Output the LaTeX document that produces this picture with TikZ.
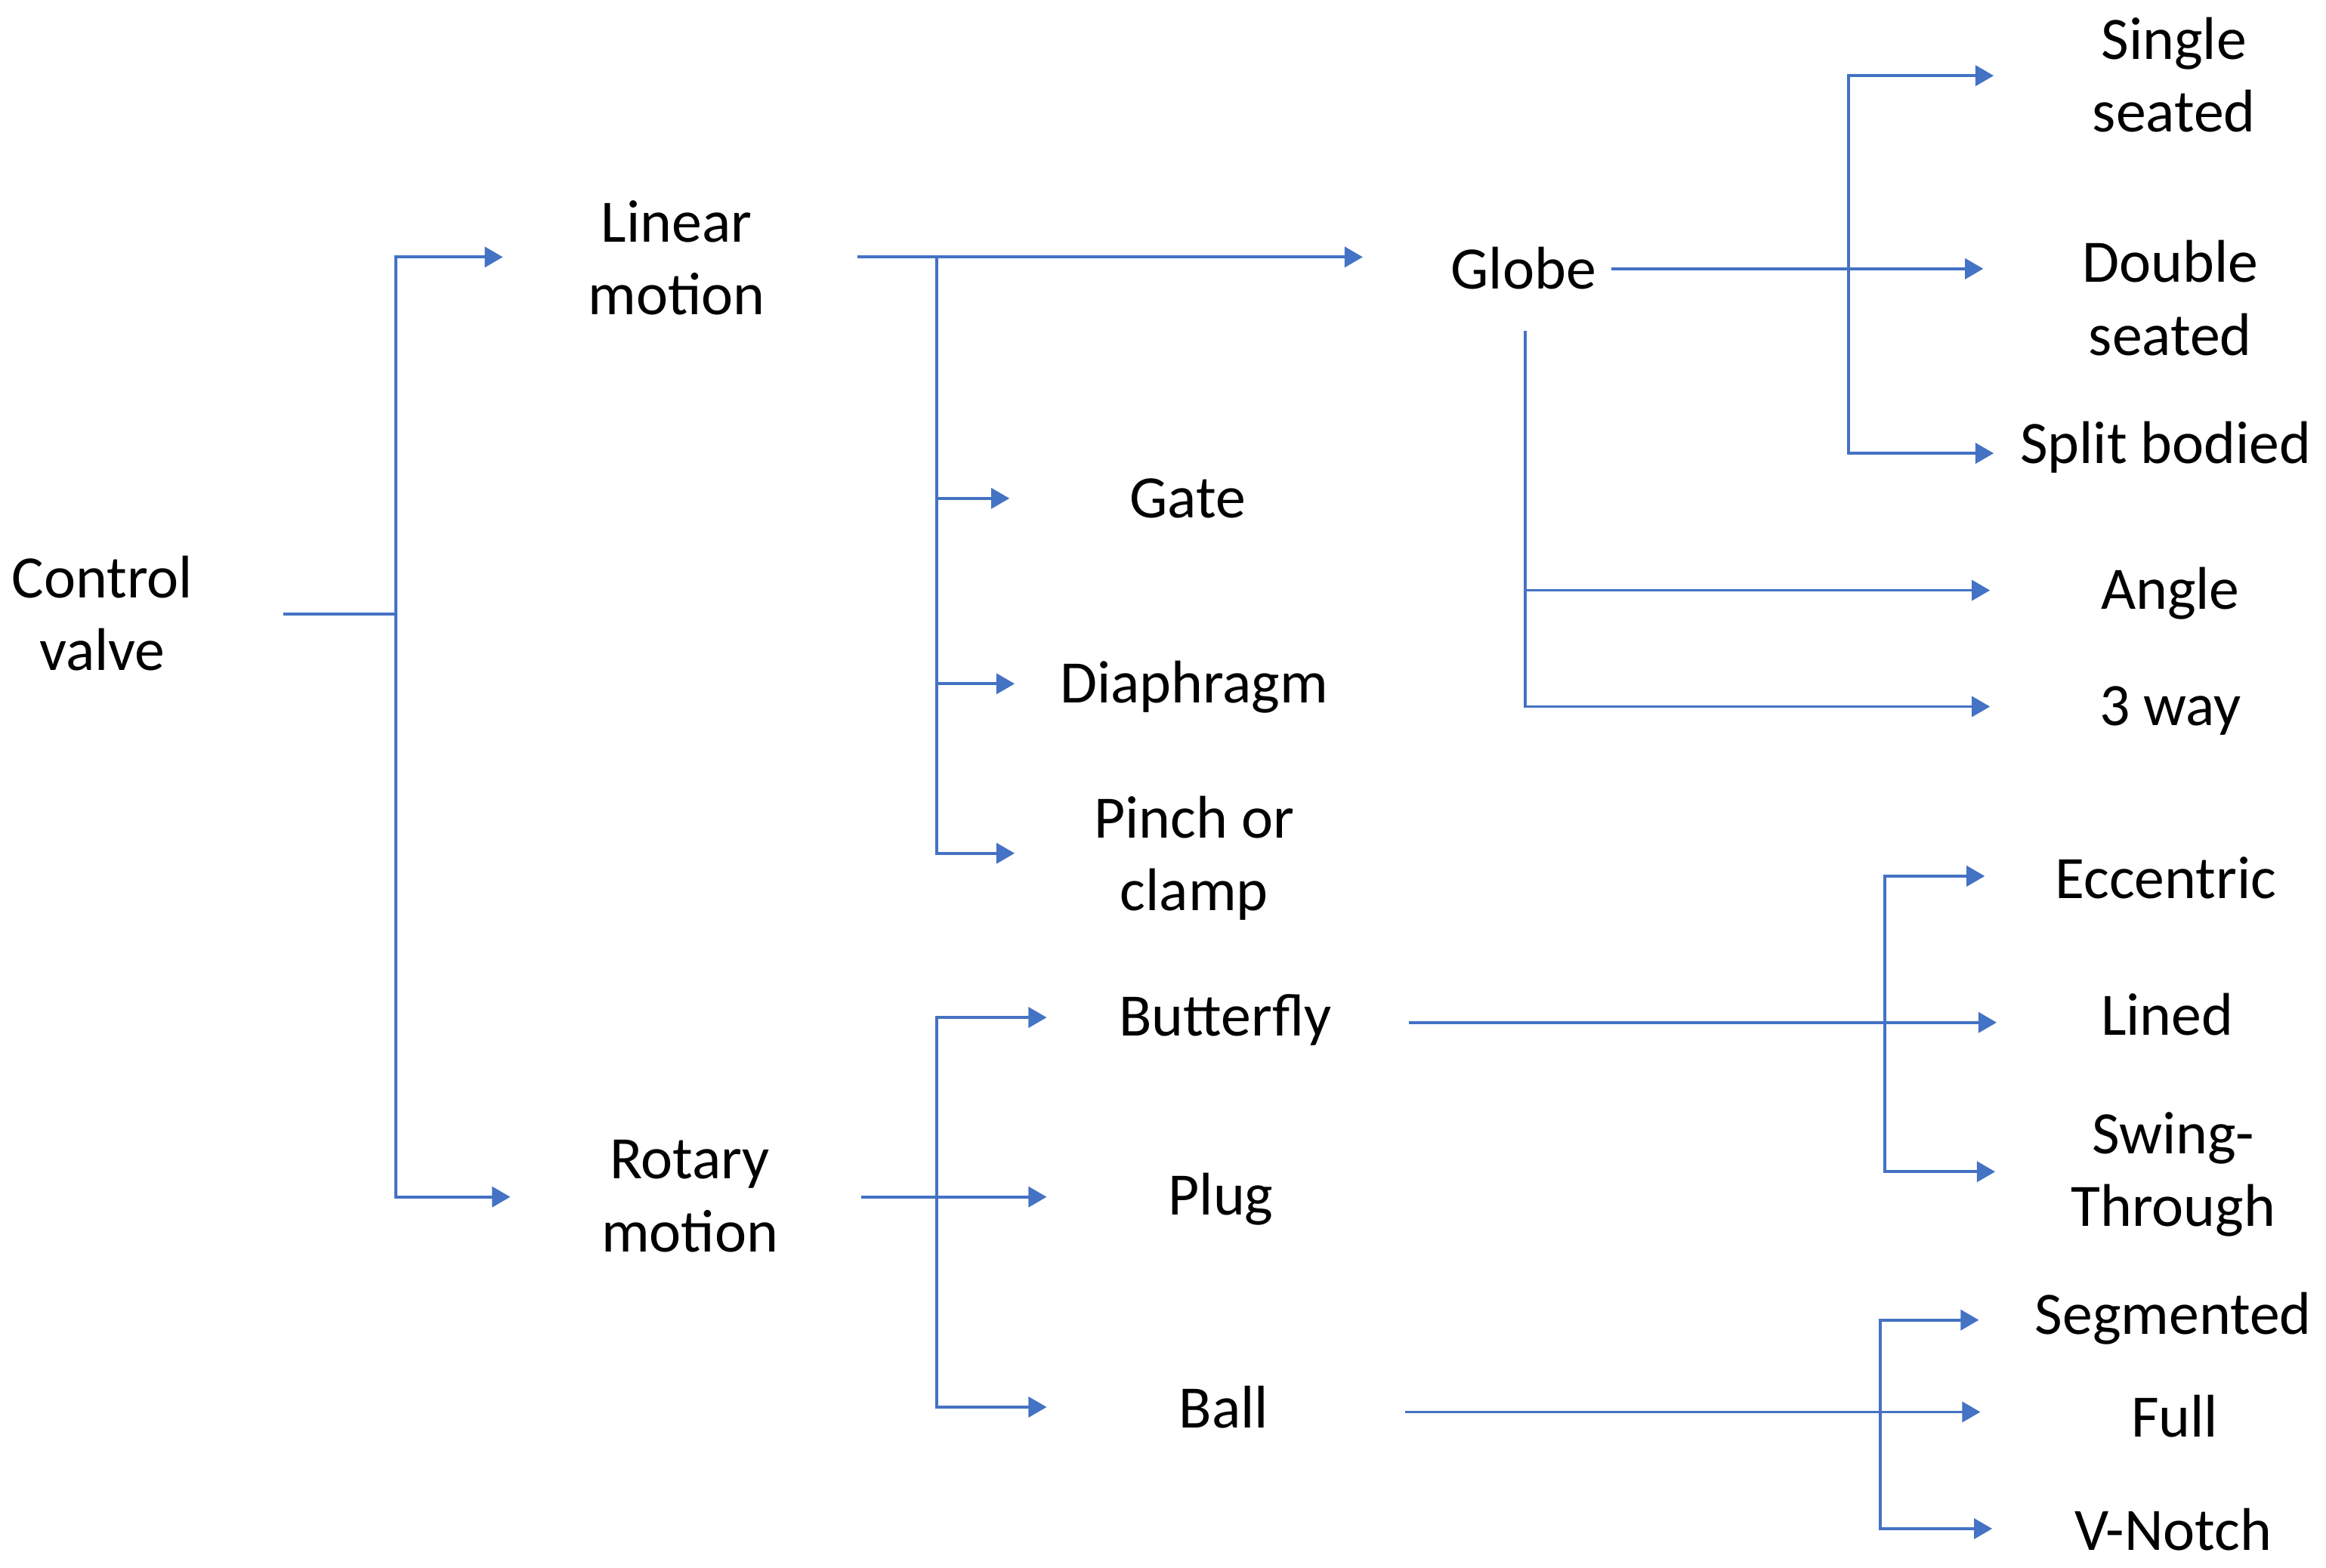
\documentclass[tikz,border=0pt]{standalone}
\usepackage{fontspec}
\setmainfont{Carlito}
\usetikzlibrary{arrows.meta}
\definecolor{lineblue}{RGB}{68,114,196}
\begin{document}
\begin{tikzpicture}[x=0.01cm,y=-0.01cm,
  lbl/.style={inner sep=0pt, align=center, font=\fontsize{11.55pt}{13.94pt}\selectfont},
  ln/.style={draw=lineblue, line width=0.55pt},
  arr/.style={ln, -{Triangle[length=3.5pt,width=3.9pt]}}]
\useasboundingbox (0,0) rectangle (1568,1057.2);
% nodes
\node[lbl] (cv) at (69,413.5) {Control\\valve};
\node[lbl] (lm) at (456,174) {Linear\\motion};
\node[lbl] (rm) at (465,806.5) {Rotary\\motion};
\node[lbl] (gate) at (800.6,336) {Gate};
\node[lbl] (dia) at (805,463) {Diaphragm};
\node[lbl] (pinch) at (805,578.5) {Pinch or\\clamp};
\node[lbl] (globe) at (1027,181) {Globe};
\node[lbl] (ss) at (1465.5,50.5) {Single\\seated};
\node[lbl] (ds) at (1463,201) {Double\\seated};
\node[lbl] (sb) at (1460,301.5) {Split bodied};
\node[lbl] (angle) at (1463,400) {Angle};
\node[lbl] (tw) at (1463,479) {3 way};
\node[lbl] (bf) at (826,687.5) {Butterfly};
\node[lbl] (plug) at (823,808.5) {Plug};
\node[lbl] (ball) at (825,949) {Ball};
\node[lbl] (ecc) at (1460,592) {Eccentric};
\node[lbl] (lined) at (1461,684) {Lined};
\node[lbl] (swing) at (1465,792) {Swing-\\Through};
\node[lbl] (seg) at (1465,889) {Segmented};
\node[lbl] (full) at (1466,955) {Full};
\node[lbl] (vn) at (1465,1031.5) {V-Notch};
% connector coordinates
\coordinate (cvo) at (191,414);
\coordinate (j1) at (267,414);
\coordinate (lmi) at (339,173.3);
\coordinate (rmi) at (344,807);
\coordinate (lmo) at (578,173.3);
\coordinate (j2) at (631.5,173.3);
\coordinate (globei) at (918.7,173.3);
\coordinate (gatei) at (680.5,336);
\coordinate (diai) at (684,461);
\coordinate (pinchi) at (684,575.3);
\coordinate (globeo) at (1086,181.2);
\coordinate (j3) at (1246,181.2);
\coordinate (ssi) at (1344,51);
\coordinate (dsi) at (1337,181.2);
\coordinate (sbi) at (1344,305.6);
\coordinate (globed) at (1028,223);
\coordinate (j4) at (1028,398);
\coordinate (anglei) at (1341.5,398);
\coordinate (twi) at (1341.5,476.4);
\coordinate (rmo) at (580.6,807);
\coordinate (j5) at (631.5,807);
\coordinate (plugi) at (705.6,807);
\coordinate (bfi) at (705.6,686);
\coordinate (balli) at (705.6,948.7);
\coordinate (bfo) at (950,689.4);
\coordinate (j6) at (1270.6,689.4);
\coordinate (ecci) at (1338,590.7);
\coordinate (linedi) at (1346,689.4);
\coordinate (swi) at (1345,790);
\coordinate (ballo) at (947,952);
\coordinate (j7) at (1267.5,952);
\coordinate (segi) at (1334,890);
\coordinate (fulli) at (1335,952);
\coordinate (vni) at (1343,1030.7);
% connectors
\draw[ln] (cvo) -- (j1);
\draw[arr] (j1) |- (lmi);
\draw[arr] (j1) |- (rmi);
\draw[arr] (lmo) -- (globei);
\draw[arr] (j2) |- (gatei);
\draw[arr] (j2) |- (diai);
\draw[arr] (j2) |- (pinchi);
\draw[arr] (globeo) -- (dsi);
\draw[arr] (j3) |- (ssi);
\draw[arr] (j3) |- (sbi);
\draw[arr] (globed) |- (twi);
\draw[arr] (j4) -- (anglei);
\draw[arr] (rmo) -- (plugi);
\draw[arr] (j5) |- (bfi);
\draw[arr] (j5) |- (balli);
\draw[arr] (bfo) -- (linedi);
\draw[arr] (j6) |- (ecci);
\draw[arr] (j6) |- (swi);
\draw[arr] (ballo) -- (fulli);
\draw[arr] (j7) |- (segi);
\draw[arr] (j7) |- (vni);
\end{tikzpicture}
\end{document}
